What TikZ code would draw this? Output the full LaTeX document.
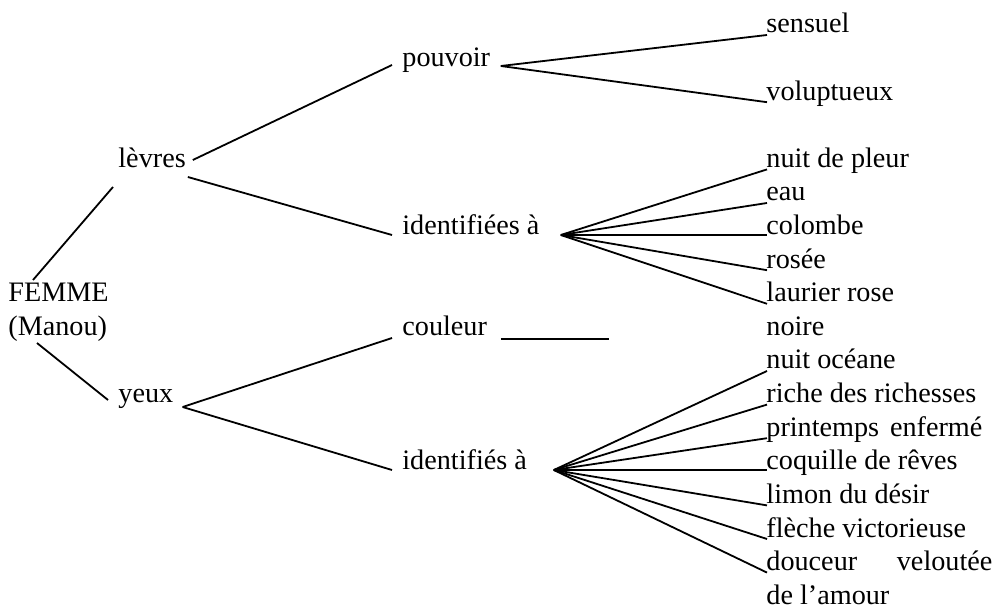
\documentclass[tikz,border=0pt]{standalone}
\usepackage{fontspec}
\setmainfont{Liberation Serif}
\usepackage{tikz}

\begin{document}
\begin{tikzpicture}[x=0.5pt,y=-0.5pt]
        \useasboundingbox (0,0) rectangle (999,608);
        \begin{scope}[every node/.style={inner sep=0pt,anchor=base west,font=\fontsize{14.1pt}{16.8pt}\selectfont}]
            \node (1) at (8,301.8) {FEMME};
            \node (2) at (8,335.4) {(Manou)};

            \node (3) at (118,167.4) {lèvres};
            \node (4) at (118,402.6) {yeux};

            \node (5) at (402,66.6) {pouvoir};
            \node (6) at (402,234.6) {identifiées à};
            \node (7) at (402,335.4) {couleur};
            \node (8) at (402,469.8) {identifiés à};

            \node (9) at (766,33) {sensuel};
            \node (10) at (766,100.2) {voluptueux};

            \node (11) at (766,167.4) {nuit de pleur};
            \node (12) at (766,201) {eau};
            \node (13) at (766,234.6) {colombe};
            \node (14) at (766,268.2) {rosée};
            \node (15) at (766,301.8) {laurier rose};

            \node (16) at (766,335.4) {noire};

            \node (17) at (766,369) {nuit océane};
            \node (18) at (766,402.6) {riche des richesses};
            \node (19) at (766,436.2) {\makebox[108pt][s]{printemps enfermé}};
            \node (20) at (766,469.8) {coquille de rêves};
            \node (21) at (766,503.4) {limon du désir};
            \node (22) at (766,537) {flèche victorieuse};
            \node (23) at (766,570.6) {\makebox[113pt][s]{douceur veloutée}};
            \node (24) at (766,604.2) {de l’amour};

            \coordinate (25) at (609,339);
        \end{scope}
        \begin{scope}[every edge/.style={draw,line width=0.9pt}]
            \path [-] ([shift={(25,-21.8)}]1.base west) edge ([shift={(-5,19.6)}]3.base west);
            \path [-] ([shift={(29,7.6)}]2.base west) edge ([shift={(-10,-2.6)}]4.base west);

            \path [-] ([shift={(6.7,-7.4)}]3.base east) edge ([shift={(-10,-1.6)}]5.base west);
            \path [-] ([shift={(1.7,9.6)}]3.base east) edge ([shift={(-10,0.4)}]6.base west);
            \path [-] ([shift={(9,4.4)}]4.base east) edge ([shift={(-10,2.6)}]7.base west);
            \path [-] ([shift={(9,4.4)}]4.base east) edge ([shift={(-10,0.2)}]8.base west);

            \path [-] ([shift={(10.3,-0.6)}]5.base east) edge ([shift={(1,2)}]9.base west);
            \path [-] ([shift={(10.3,-0.6)}]5.base east) edge ([shift={(1,2)}]10.base west);

            \path [-] ([shift={(21,0.4)}]6.base east) edge ([shift={(1,2)}]11.base west);
            \path [-] ([shift={(21,0.4)}]6.base east) edge ([shift={(1,2)}]12.base west);
            \path [-] ([shift={(21,0.4)}]6.base east) edge ([shift={(1,0.4)}]13.base west);
            \path [-] ([shift={(21,0.4)}]6.base east) edge ([shift={(1,2)}]14.base west);
            \path [-] ([shift={(21,0.4)}]6.base east) edge ([shift={(1,2)}]15.base west);

            \path [-] ([shift={(13.4,3.6)}]7.base east) edge (25);

            \path [-] ([shift={(26.5,0.2)}]8.base east) edge ([shift={(1,2)}]17.base west);
            \path [-] ([shift={(26.5,0.2)}]8.base east) edge ([shift={(1,2)}]18.base west);
            \path [-] ([shift={(26.5,0.2)}]8.base east) edge ([shift={(1,2)}]19.base west);
            \path [-] ([shift={(26.5,0.2)}]8.base east) edge ([shift={(1,0.2)}]20.base west);
            \path [-] ([shift={(26.5,0.2)}]8.base east) edge ([shift={(1,2)}]21.base west);
            \path [-] ([shift={(26.5,0.2)}]8.base east) edge ([shift={(1,2)}]22.base west);
            \path [-] ([shift={(26.5,0.2)}]8.base east) edge ([shift={(1,2)}]23.base west);
        \end{scope}
    \end{tikzpicture}
\end{document}
